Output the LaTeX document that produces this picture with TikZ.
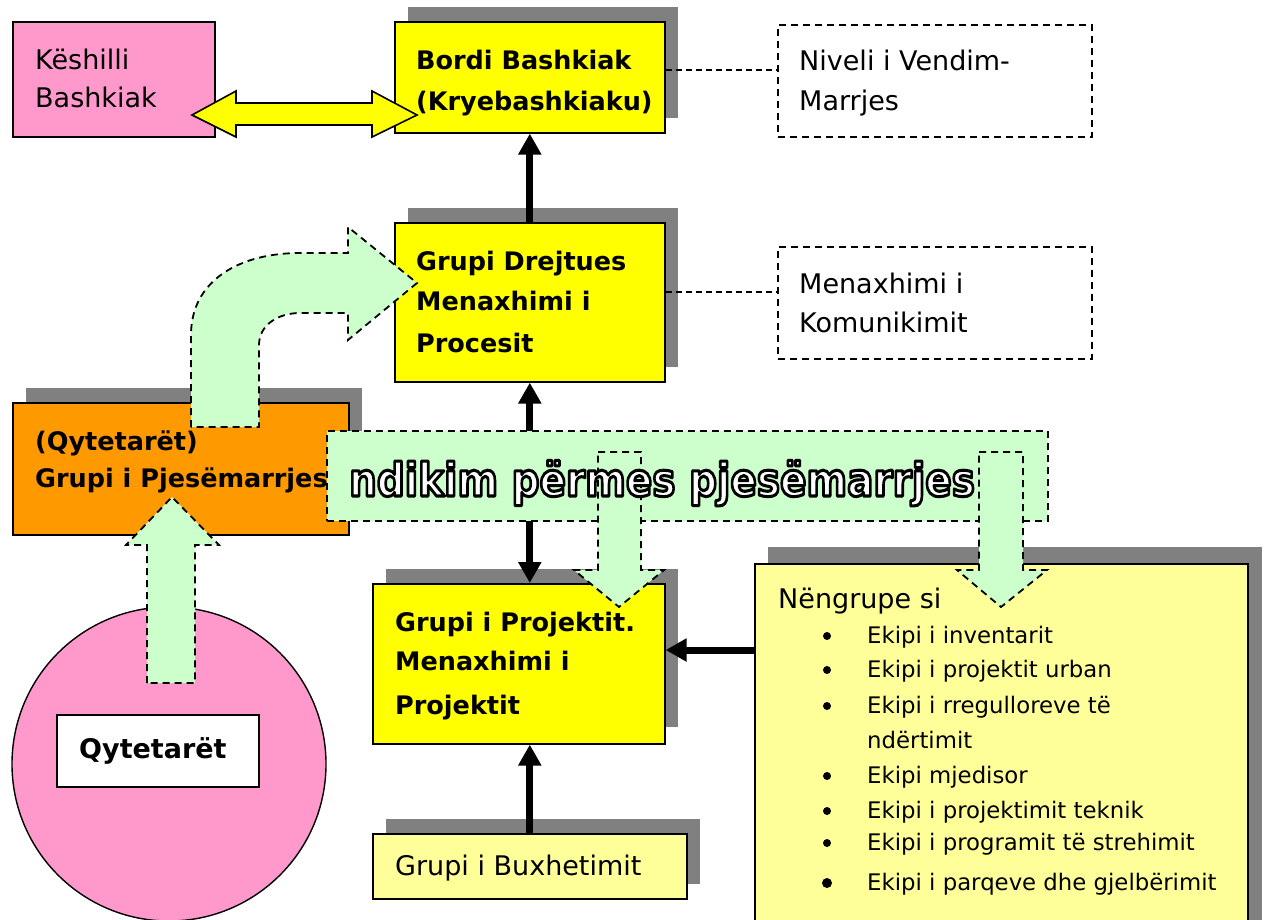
\documentclass[tikz,border=0pt]{standalone}
\usepackage{fontspec}
\setmainfont{DejaVu Sans}
\usetikzlibrary{arrows.meta}
\definecolor{shd}{HTML}{808080}
\definecolor{ylw}{HTML}{FFFF00}
\definecolor{pnk}{HTML}{FF99CC}
\definecolor{org}{HTML}{FF9900}
\definecolor{lyl}{HTML}{FFFF99}
\definecolor{lgr}{HTML}{CCFFCC}
\begin{document}
\begin{tikzpicture}[x=1pt,y=-1pt,
  rbox/.style={draw=black, line width=1.6pt, inner sep=0pt, anchor=north west},
  dbox/.style={draw=black, line width=1.5pt, dash pattern=on 7pt off 5pt, inner sep=0pt, anchor=north west},
  nt/.style={anchor=base west, inner sep=0pt, font=\fontsize{27}{27}\selectfont},
  bt/.style={anchor=base west, inner sep=0pt, font=\fontsize{25.5}{25.5}\selectfont\bfseries},
  lt/.style={anchor=base west, inner sep=0pt, font=\fontsize{22.8}{22.8}\selectfont},
  blk/.style={line width=7pt, -{Triangle[length=21pt,width=22pt]}},
  blktwo/.style={line width=7pt, {Triangle[length=21pt,width=22pt]}-{Triangle[length=21pt,width=22pt]}},
  conn/.style={draw=black, line width=1.4pt, dash pattern=on 6pt off 4pt},
  grarrow/.style={fill=lgr, draw=black, line width=1.8pt, dash pattern=on 7pt off 5pt, line join=miter},
  ylarrow/.style={fill=ylw, draw=black, line width=1.6pt, line join=miter},
  bannertxt/.style={anchor=base, inner sep=0pt, font=\fontsize{39}{39}\selectfont\bfseries},
]
\clip (0,0) rectangle (1264,919);
\fill[white] (0,0) rectangle (1264,919);

% shadows
\fill[shd] (408,7) rectangle (678,118);
\fill[shd] (408,208) rectangle (678,367);
\fill[shd] (26,388) rectangle (362,520);
\fill[shd] (386,569) rectangle (678,727);
\fill[shd] (386,819) rectangle (700,884);
\fill[shd] (768,547) rectangle (1262,940);

% top boxes
\node[rbox, fill=pnk, minimum width=202pt, minimum height=115pt] (kesh) at (12,21) {};
\node[rbox, fill=ylw, minimum width=270pt, minimum height=111pt] (bordi) at (394,21) {};
\node[dbox, minimum width=314pt, minimum height=112pt] (niv) at (777,24) {};
\node[rbox, fill=ylw, minimum width=270pt, minimum height=159pt] (drej) at (394,222) {};
\node[dbox, minimum width=314pt, minimum height=112pt] (kom) at (777,246) {};

\node[nt] (keshA) at (35,69) {Këshilli};
\node[nt] (keshB) at (35,107) {Bashkiak};
\node[bt] (bordiA) at (416,69) {Bordi Bashkiak};
\node[bt] (bordiB) at (416,110) {(Kryebashkiaku)};
\node[nt] (nivA) at (799,70) {Niveli i Vendim-};
\node[nt] (nivB) at (799,110) {Marrjes};
\node[bt] (drejA) at (416,270) {Grupi Drejtues};
\node[bt] (drejB) at (416,310) {Menaxhimi i};
\node[bt] (drejC) at (416,352) {Procesit};
\node[nt] (komA) at (799,293) {Menaxhimi i};
\node[nt] (komB) at (799,332) {Komunikimit};

% connectors top
\draw[conn] (bordi.east |- 0,70) -- (niv.west |- 0,70);
\draw[conn] (drej.east |- 0,292) -- (kom.west |- 0,292);
\draw[blk] (drej.north) -- (bordi.south);

% yellow double block arrow
\draw[ylarrow] (192,115) -- (236,91) -- (236,103) -- (372,103) -- (372,91) -- (417,115)
  -- (372,137) -- (372,125) -- (236,125) -- (236,137) -- cycle;

% orange box
\node[rbox, fill=org, minimum width=336pt, minimum height=132pt] (pjes) at (12,402) {};
\node[bt] (pjesA) at (35,450) {(Qytetarët)};
\node[bt] (pjesB) at (35,487) {Grupi i Pjesëmarrjes};

% curved green arrow
\draw[grarrow] (191,427) -- (191,335) .. controls (191,280) and (240,253) .. (300,253)
  -- (348,253) -- (348,227) -- (417,283) -- (348,340) -- (348,313) -- (300,313)
  .. controls (278,313) and (259,325) .. (259,345) -- (259,427) -- cycle;

% citizens circle
\node[circle, draw=black, line width=1.4pt, fill=pnk, minimum size=314pt, inner sep=0pt] (cit) at (169,764) {};
\node[rbox, fill=white, minimum width=202pt, minimum height=72pt] (qyt) at (56,714) {};
\node[bt, font=\fontsize{27}{27}\selectfont\bfseries] (qytA) at (79,758) {Qytetarët};

% up green arrow
\draw[grarrow] (147,683) -- (147,545) -- (126,545) -- (172,497) -- (219,545) -- (195,545) -- (195,683) -- cycle;

% lower boxes
\node[rbox, fill=ylw, minimum width=292pt, minimum height=160pt] (proj) at (372,583) {};
\node[rbox, fill=lyl, minimum width=314pt, minimum height=65pt] (bux) at (372,833) {};
\node[rbox, fill=lyl, minimum width=493pt, minimum height=380pt] (neng) at (754,563) {};

\draw[blktwo] (drej.south) -- (drej.south |- proj.north);
\draw[blk] (bux.north) -- (bux.north |- proj.south);
\draw[blk] (neng.west |- 0,650) -- (proj.east |- 0,650);

\node[bt] (projA) at (395,631) {Grupi i Projektit.};
\node[bt] (projB) at (395,670) {Menaxhimi i};
\node[bt] (projC) at (395,714) {Projektit};
\node[nt] (buxA) at (395,875) {Grupi i Buxhetimit};

\node[nt] (nengA) at (778,608) {Nëngrupe si};
\foreach \yy/\r in {643/4, 677/4, 713/4, 783/4, 818/4, 850/4, 890/5}
  \fill (827,\yy-7) circle (\r pt);
\node[lt] (l1) at (867,643) {Ekipi i inventarit};
\node[lt] (l2) at (867,677) {Ekipi i projektit urban};
\node[lt] (l3) at (867,713) {Ekipi i rregulloreve të};
\node[lt] (l3b) at (867,748) {ndërtimit};
\node[lt] (l4) at (867,783) {Ekipi mjedisor};
\node[lt] (l5) at (867,818) {Ekipi i projektimit teknik};
\node[lt] (l6) at (867,850) {Ekipi i programit të strehimit};
\node[lt] (l7) at (867,890) {Ekipi i parqeve dhe gjelbërimit};

% banner
\node[grarrow, minimum width=721pt, minimum height=90pt, anchor=north west, inner sep=0pt] (ban) at (326,430) {};
\draw[grarrow] (598,452) -- (641,452) -- (641,570) -- (664,570) -- (619,607) -- (574,570) -- (598,570) -- cycle;
\draw[grarrow] (979,452) -- (1023,452) -- (1023,570) -- (1047,570) -- (1001,607) -- (957,570) -- (979,570) -- cycle;
\node[bannertxt] (bantxt) at (662,496) {\color{white}\special{pdf:code 0 G 2.6 w 1 j 2 Tr}\scalebox{1}[1.18]{ndikim përmes pjesëmarrjes}\special{pdf:code 0 Tr}};
\end{tikzpicture}
\end{document}
